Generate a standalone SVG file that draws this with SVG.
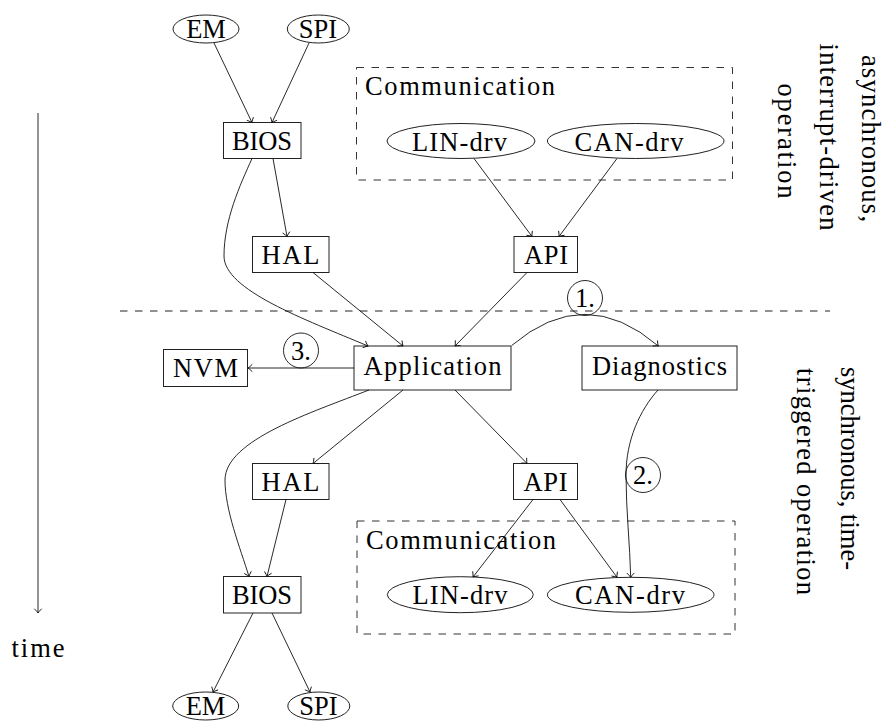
<svg xmlns="http://www.w3.org/2000/svg" width="886" height="725" viewBox="0 0 886 725">
  <style>
    text { font-family: "Liberation Serif", "Times New Roman", serif; font-size: 26.5px; fill: #000; }
    .mid { text-anchor: middle; }
    .box { fill: #fff; stroke: #222; stroke-width: 1; }
    .oval { fill: #fff; stroke: #222; stroke-width: 1; }
    .group { fill: none; stroke: #333; stroke-width: 1; stroke-dasharray: 7.5 7.5; }
    .edge { fill: none; stroke: #111; stroke-width: 0.9; marker-end: url(#arr); }
    .tag { fill: none; stroke: #111; stroke-width: 0.9; }
    .sep { fill: none; stroke: #222; stroke-width: 1; stroke-dasharray: 7.5 7.5; }
  </style>
  <defs>
    <marker id="arr" viewBox="-6 -6 12 12" markerWidth="12" markerHeight="12" refX="0" refY="0" orient="auto" markerUnits="userSpaceOnUse">
      <path d="M-4,-3.4 Q-1.3,-0.7 0,0 Q-1.3,0.7 -4,3.4" fill="none" stroke="#111" stroke-width="0.9" stroke-linecap="round"/>
    </marker>
  </defs>

  <rect width="886" height="725" fill="#fff"/>

  <!-- phase separator and time axis -->
  <g id="phase-separator">
    <path class="sep" d="M120,311 L830,311"/>
  </g>
  <g id="time-axis">
    <path class="edge" d="M38,113 L38,613"/>
    <text class="mid" x="38" y="657" font-size="28" textLength="53" lengthAdjust="spacing">time</text>
  </g>

  <!-- phase captions, rotated -->
  <g id="caption-async">
    <text transform="translate(862,55) rotate(90)" textLength="167" lengthAdjust="spacing">asynchronous,</text>
    <text transform="translate(820,43.5) rotate(90)" textLength="187" lengthAdjust="spacing">interrupt-driven</text>
    <text transform="translate(778,83.5) rotate(90)" textLength="115" lengthAdjust="spacing">operation</text>
  </g>
  <g id="caption-sync">
    <text transform="translate(841,367) rotate(90)" textLength="203" lengthAdjust="spacing">synchronous, time-</text>
    <text transform="translate(797,368) rotate(90)" textLength="227" lengthAdjust="spacing">triggered operation</text>
  </g>

  <!-- upper (interrupt) half -->
  <g id="comm-top">
    <rect class="group" x="356.5" y="67.5" width="376" height="112.5"/>
    <text x="365" y="95" textLength="190" lengthAdjust="spacing">Communication</text>
  </g>
  <g id="em-top">
    <ellipse class="oval" cx="206" cy="29" rx="33" ry="14"/>
    <text class="mid" x="206" y="37.5">EM</text>
  </g>
  <g id="spi-top">
    <ellipse class="oval" cx="318.3" cy="29" rx="31" ry="14"/>
    <text class="mid" x="318" y="37.5">SPI</text>
  </g>
  <g id="bios-top">
    <rect class="box" x="223.5" y="122.5" width="77.5" height="36"/>
    <text class="mid" x="262" y="149.5" textLength="60" lengthAdjust="spacing">BIOS</text>
  </g>
  <g id="lin-top">
    <ellipse class="oval" cx="461" cy="141" rx="74" ry="17.5"/>
    <text class="mid" x="459.5" y="150.5" textLength="95" lengthAdjust="spacing">LIN-drv</text>
  </g>
  <g id="can-top">
    <ellipse class="oval" cx="635.7" cy="141" rx="88.3" ry="17.5"/>
    <text class="mid" x="629" y="150.5" textLength="109" lengthAdjust="spacing">CAN-drv</text>
  </g>
  <g id="hal-top">
    <rect class="box" x="252.5" y="236.5" width="76.5" height="36"/>
    <text class="mid" x="290.5" y="264" textLength="58" lengthAdjust="spacing">HAL</text>
  </g>
  <g id="api-top">
    <rect class="box" x="514" y="236.5" width="63.5" height="36"/>
    <text class="mid" x="546" y="264" textLength="44" lengthAdjust="spacing">API</text>
  </g>

  <!-- lower (time-triggered) half -->
  <g id="application">
    <rect class="box" x="354" y="346" width="157" height="44"/>
    <text class="mid" x="432.5" y="375" textLength="138" lengthAdjust="spacing">Application</text>
  </g>
  <g id="diagnostics">
    <rect class="box" x="582" y="346" width="155" height="44"/>
    <text class="mid" x="659.5" y="375" textLength="135" lengthAdjust="spacing">Diagnostics</text>
  </g>
  <g id="nvm">
    <rect class="box" x="163.5" y="349.5" width="84" height="37"/>
    <text class="mid" x="205.5" y="377" textLength="65" lengthAdjust="spacing">NVM</text>
  </g>
  <g id="hal-bottom">
    <rect class="box" x="252.5" y="463.5" width="76.5" height="36"/>
    <text class="mid" x="290.5" y="490.5" textLength="58" lengthAdjust="spacing">HAL</text>
  </g>
  <g id="api-bottom">
    <rect class="box" x="513.5" y="463.5" width="64" height="36"/>
    <text class="mid" x="545.5" y="490.5" textLength="44" lengthAdjust="spacing">API</text>
  </g>
  <g id="comm-bottom">
    <rect class="group" x="357" y="521" width="378" height="113"/>
    <text x="366" y="548.5" textLength="190" lengthAdjust="spacing">Communication</text>
  </g>
  <g id="lin-bottom">
    <ellipse class="oval" cx="460.3" cy="594.7" rx="73" ry="18"/>
    <text class="mid" x="460" y="604.3" textLength="95" lengthAdjust="spacing">LIN-drv</text>
  </g>
  <g id="can-bottom">
    <ellipse class="oval" cx="630.7" cy="594.8" rx="83.3" ry="17.5"/>
    <text class="mid" x="630" y="604.3" textLength="110" lengthAdjust="spacing">CAN-drv</text>
  </g>
  <g id="bios-bottom">
    <rect class="box" x="223.5" y="576.5" width="77.5" height="36.5"/>
    <text class="mid" x="262" y="603.5" textLength="60" lengthAdjust="spacing">BIOS</text>
  </g>
  <g id="em-bottom">
    <ellipse class="oval" cx="205.7" cy="706" rx="33" ry="14"/>
    <text class="mid" x="205.5" y="714.5">EM</text>
  </g>
  <g id="spi-bottom">
    <ellipse class="oval" cx="318.8" cy="706" rx="31" ry="14"/>
    <text class="mid" x="318.5" y="714.5">SPI</text>
  </g>

  <!-- connectors -->
  <g id="connectors">
    <path class="edge" d="M214,43 L252,122.5"/>
    <path class="edge" d="M309,43 L272,122.5"/>
    <path class="edge" d="M273,158.5 L287,236.5"/>
    <path class="edge" d="M252,158.5 C240,185 224,220 224,256 C224,290 304,319 368,346"/>
    <path class="edge" d="M474,158.5 L532,236.5"/>
    <path class="edge" d="M617,158.5 L559,236.5"/>
    <path class="edge" d="M313,272.5 L403,346"/>
    <path class="edge" d="M527,272.5 L455,346"/>
    <path class="edge" d="M511.7,345.5 Q585,283 658.3,346"/>
    <path class="edge" d="M354,368 L248,368"/>
    <path class="edge" d="M403,390 L313,463.5"/>
    <path class="edge" d="M455,390 L527,463.5"/>
    <path class="edge" d="M369,390 C313,412 225,440 225,480 C225,510 240,547.5 249,576.5"/>
    <path class="edge" d="M286,499.5 L267,576.5"/>
    <path class="edge" d="M533,499.5 L473,577"/>
    <path class="edge" d="M560,499.5 L617,577.3"/>
    <path class="edge" d="M658,390 C640,410 626,440 626,475 C626,510 630,545 630.7,577.3"/>
    <path class="edge" d="M253,613 L213,692"/>
    <path class="edge" d="M272,613 L310,692"/>
  </g>

  <!-- step markers on connectors -->
  <g id="step-1">
    <circle class="tag" cx="585" cy="298" r="17.5"/>
    <text class="mid" x="585" y="307" font-size="26">1.</text>
  </g>
  <g id="step-2">
    <circle class="tag" cx="643" cy="475" r="17.5"/>
    <text class="mid" x="643" y="484" font-size="26">2.</text>
  </g>
  <g id="step-3">
    <circle class="tag" cx="301" cy="350.5" r="17.5"/>
    <text class="mid" x="301" y="359.5" font-size="26">3.</text>
  </g>
</svg>
